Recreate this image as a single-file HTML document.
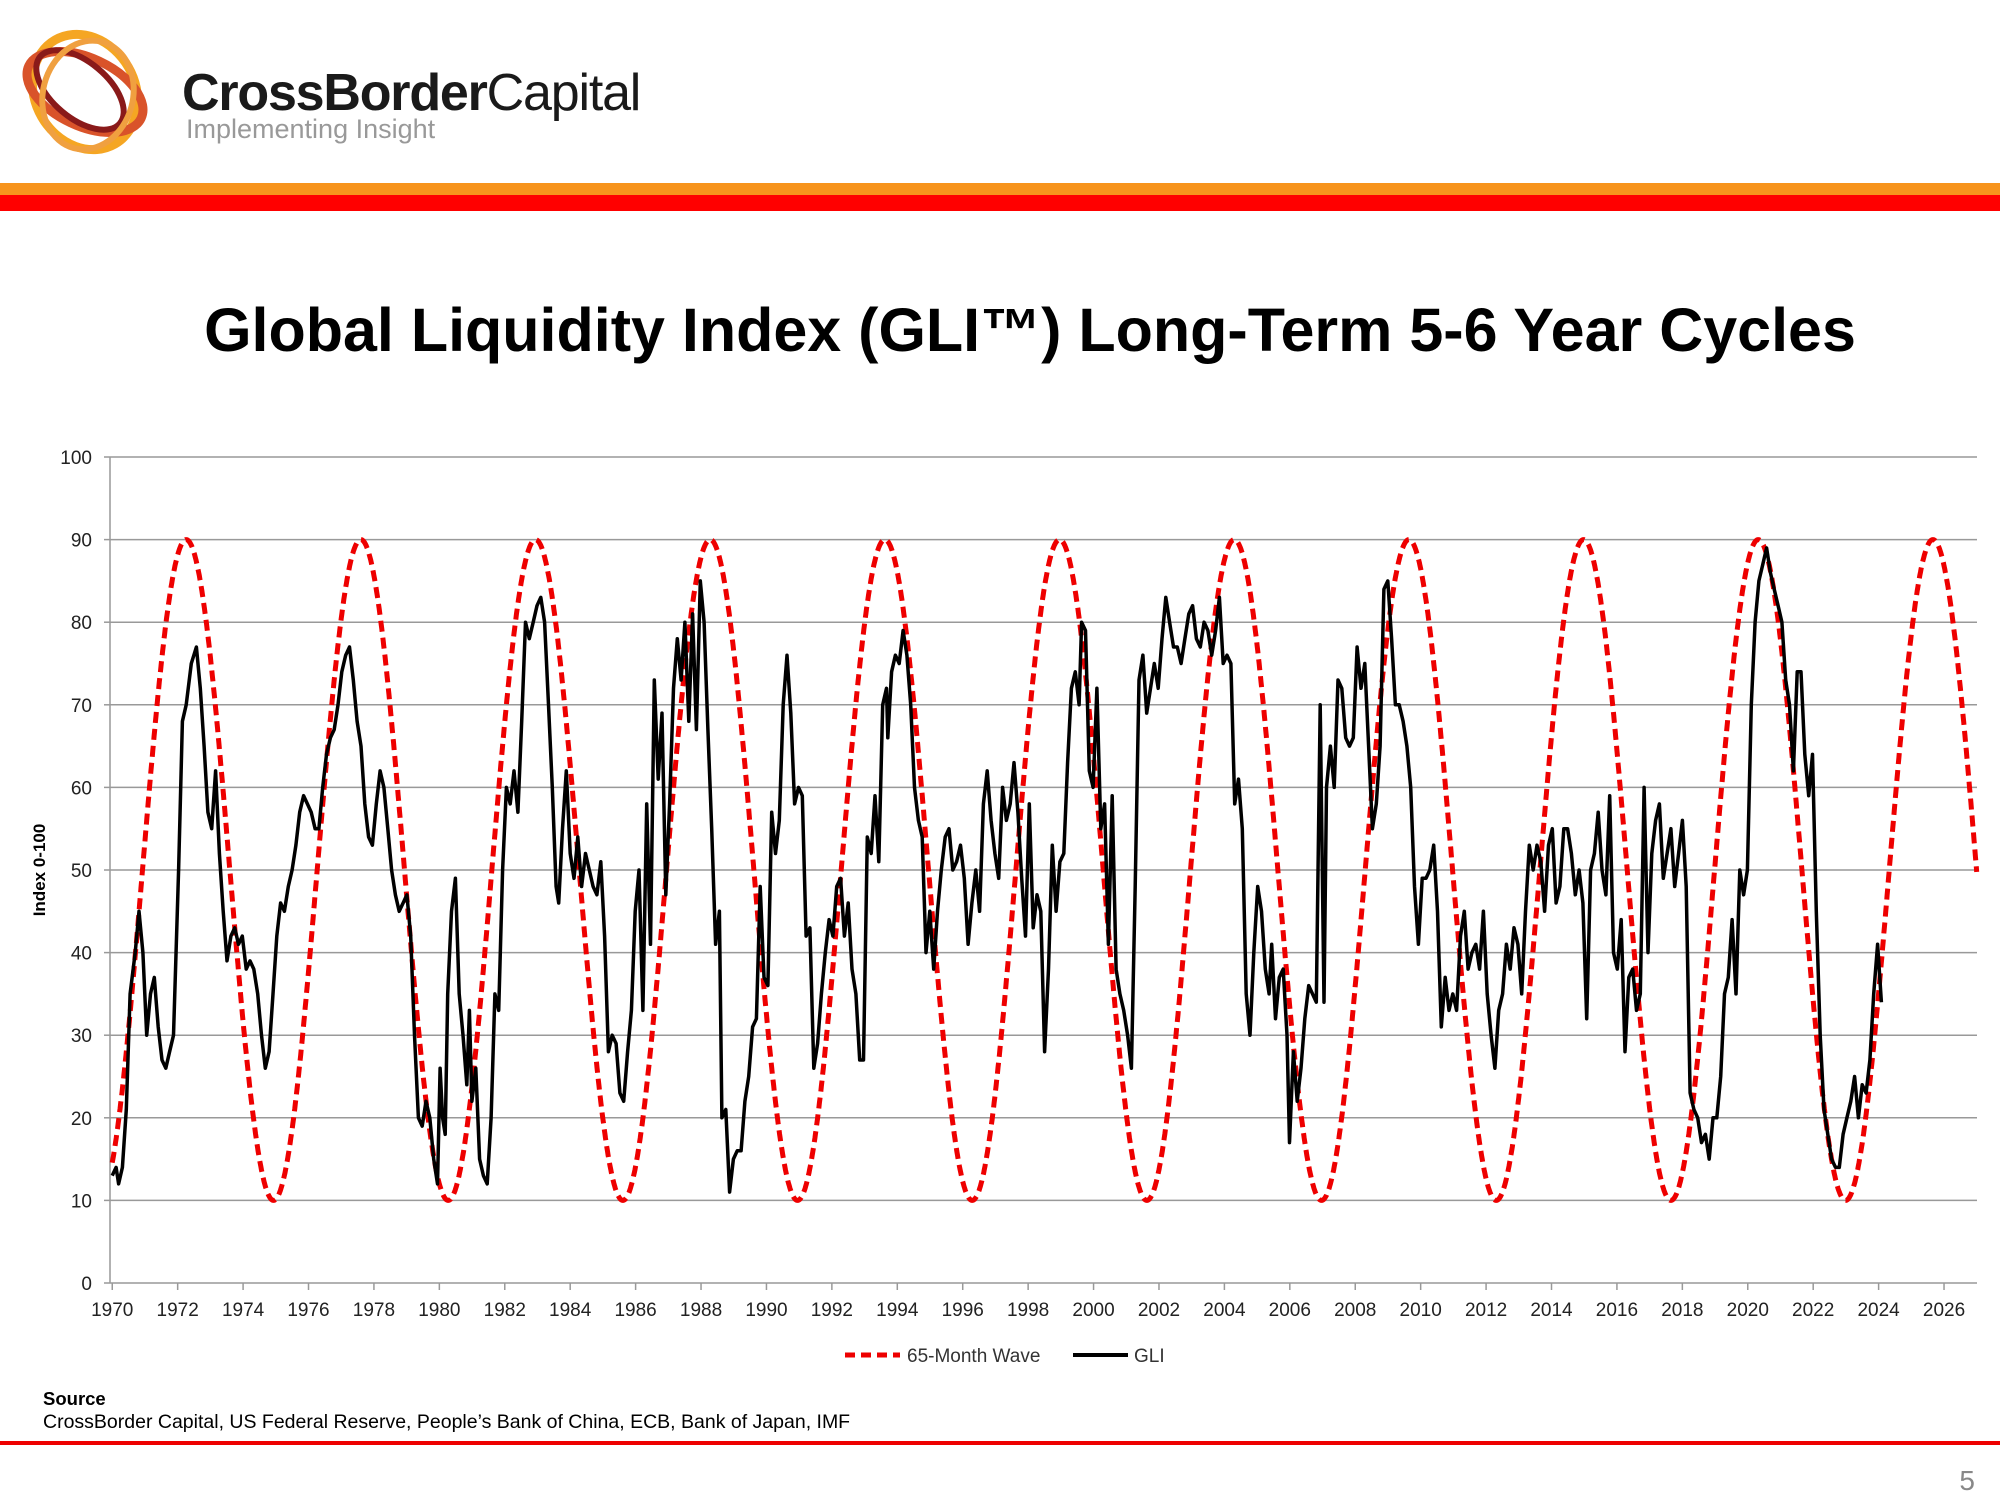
<!DOCTYPE html>
<html><head><meta charset="utf-8"><style>
html,body{margin:0;padding:0;background:#fff;}
svg{display:block;font-family:"Liberation Sans",Arial,sans-serif;}
</style></head><body>
<svg id="s" width="2000" height="1500" viewBox="0 0 2000 1500" xmlns="http://www.w3.org/2000/svg">
<rect width="2000" height="1500" fill="#fff"/>
<g fill="none" stroke-width="9">
<ellipse cx="85" cy="92" rx="50" ry="60" stroke="#f5a623" transform="rotate(-30 85 92)"/>
<ellipse cx="85" cy="92" rx="62" ry="34" stroke="#d9532a" transform="rotate(25 85 92)"/>
<ellipse cx="80" cy="90" rx="52" ry="28" stroke="#8a1a1a" transform="rotate(40 80 90)" stroke-width="6"/>
<ellipse cx="88" cy="95" rx="45" ry="55" stroke="#f0a040" transform="rotate(15 88 95)" stroke-width="6"/>
</g>
<text x="182" y="110" font-size="52" font-weight="bold" fill="#1a1a1a" letter-spacing="-1.2">CrossBorder<tspan font-weight="normal">Capital</tspan></text>
<text x="186" y="138" font-size="27" fill="#999">Implementing Insight</text>
<rect x="0" y="183" width="2000" height="12" fill="#f7941d"/>
<rect x="0" y="195" width="2000" height="16" fill="#f00"/>
<text x="1030" y="351" font-size="61" font-weight="bold" text-anchor="middle" fill="#000">Global Liquidity Index (GLI™) Long-Term 5-6 Year Cycles</text>
<g id="grid"></g>
<g id="series"></g>
<text transform="translate(45,870) rotate(-90)" font-size="17" font-weight="bold" text-anchor="middle">Index 0-100</text>
<line x1="845" y1="1355" x2="900" y2="1355" stroke="#e00" stroke-width="5" stroke-dasharray="10,6"/>
<text x="907" y="1362" font-size="19" fill="#333">65-Month Wave</text>
<line x1="1073" y1="1355" x2="1128" y2="1355" stroke="#000" stroke-width="4"/>
<text x="1134" y="1362" font-size="19" fill="#333">GLI</text>
<text x="43" y="1405" font-size="18.5" font-weight="bold">Source</text>
<text x="43" y="1428" font-size="19.5">CrossBorder Capital, US Federal Reserve, People’s Bank of China, ECB, Bank of Japan, IMF</text>
<rect x="0" y="1441" width="2000" height="4" fill="#e00"/>
<text x="1975" y="1490" font-size="28" fill="#888" text-anchor="end">5</text>
</svg>
<script>
var K=2000/1568;
function yv(v){return 1283-v*8.26;}
function xy(y){return (88+(y-1970)*25.645)*K;}
var g=document.getElementById('grid'),h='';
var L=110,R=1977;
for(var v=0;v<=100;v+=10){var y=yv(v);h+='<line x1="'+L+'" y1="'+y+'" x2="'+R+'" y2="'+y+'" stroke="#999" stroke-width="1.5"/>';
h+='<line x1="'+(L-6)+'" y1="'+y+'" x2="'+L+'" y2="'+y+'" stroke="#999" stroke-width="1.5"/>';
h+='<text x="92" y="'+(y+7)+'" font-size="19" text-anchor="end" fill="#222">'+v+'</text>';}
h+='<line x1="'+L+'" y1="'+yv(100)+'" x2="'+L+'" y2="'+yv(0)+'" stroke="#999" stroke-width="1.5"/>';
for(var yr=1970;yr<=2026;yr+=2){var x=xy(yr);h+='<line x1="'+x+'" y1="1283" x2="'+x+'" y2="1290" stroke="#999" stroke-width="1.5"/><text x="'+x+'" y="1316" font-size="19" text-anchor="middle" fill="#222">'+yr+'</text>';}
g.innerHTML=h;
var d='';for(var t=1970;t<=2027.0;t+=0.02){var val=50+40*Math.cos(2*Math.PI*(t-1972.26)/5.34);d+=(d?'L':'M')+xy(t).toFixed(1)+' '+yv(val).toFixed(1);}
var p="88 13,91 14,93 12,96 14,99 21,102 35,106 40,109 45,112 40,115 30,118 35,121 37,124 31,127 27,130 26,133 28,136 30,140 50,143 68,146 70,150 75,154 77,157 72,160 65,163 57,166 55,169 62,172 52,175 45,178 39,181 42,184 43,187 41,190 42,193 38,196 39,199 38,202 35,205 30,208 26,211 28,214 35,217 42,220 46,223 45,226 48,229 50,232 53,235 57,238 59,241 58,244 57,247 55,250 55,253 60,256 64,259 66,262 67,265 70,268 74,271 76,274 77,277 73,280 68,283 65,286 58,289 54,292 53,295 58,298 62,301 60,304 55,307 50,310 47,313 45,316 46,319 47,322 42,325 30,328 20,331 19,334 22,337 20,340 15,343 12,345 26,347 20,349 18,351 35,354 45,357 49,360 35,363 30,366 24,368 33,370 22,373 26,376 15,379 13,382 12,385 20,388 35,391 33,394 50,397 60,400 58,403 62,406 57,409 68,412 80,415 78,418 80,421 82,424 83,427 80,430 70,433 60,436 48,438 46,441 55,444 62,447 52,450 49,453 54,456 48,459 52,462 50,465 48,468 47,471 51,474 42,477 28,480 30,483 29,486 23,489 22,492 28,495 33,498 45,501 50,504 33,507 58,510 41,513 73,516 61,519 69,522 47,525 58,528 72,531 78,534 73,537 80,540 68,543 81,546 67,549 85,552 80,555 67,558 55,561 41,564 45,566 20,569 21,572 11,575 15,578 16,581 16,584 22,587 25,590 31,593 32,596 48,599 37,602 36,605 57,608 52,611 56,614 70,617 76,620 69,623 58,626 60,629 59,632 42,635 43,638 26,641 29,644 35,647 40,650 44,653 42,656 48,659 49,662 42,665 46,668 38,671 35,674 27,677 27,680 54,683 52,686 59,689 51,692 70,695 72,696 66,699 74,702 76,705 75,708 79,711 76,714 70,717 60,720 56,723 54,726 40,729 45,732 38,735 45,738 50,741 54,744 55,747 50,750 51,753 53,756 49,759 41,762 46,765 50,768 45,771 58,774 62,777 56,780 52,783 49,786 60,789 56,792 58,795 63,798 57,801 49,804 42,807 58,810 43,813 47,816 45,819 28,822 38,825 53,828 45,831 51,834 52,837 63,840 72,843 74,846 70,848 80,851 79,854 62,857 60,860 72,863 55,866 58,869 41,872 59,875 38,878 35,881 33,884 30,887 26,890 48,893 73,896 76,899 69,902 72,905 75,908 72,911 78,914 83,917 80,920 77,923 77,926 75,929 78,932 81,935 82,938 78,941 77,944 80,947 79,950 76,953 79,956 83,959 75,962 76,965 75,968 58,971 61,974 55,977 35,980 30,983 40,986 48,989 45,992 38,995 35,997 41,1000 32,1003 37,1006 38,1009 30,1011 17,1014 28,1017 22,1020 26,1023 32,1026 36,1029 35,1032 34,1035 70,1038 34,1040 60,1043 65,1046 60,1049 73,1052 72,1055 66,1058 65,1061 66,1064 77,1067 72,1070 75,1073 65,1076 55,1079 58,1082 65,1085 84,1088 85,1091 78,1094 70,1097 70,1100 68,1103 65,1106 60,1109 48,1112 41,1115 49,1118 49,1121 50,1124 53,1127 45,1130 31,1133 37,1136 33,1139 35,1142 33,1145 42,1148 45,1151 38,1154 40,1157 41,1160 38,1163 45,1166 35,1169 30,1172 26,1175 33,1178 35,1181 41,1184 38,1187 43,1190 41,1193 35,1196 45,1199 53,1202 50,1205 53,1208 51,1211 45,1214 53,1217 55,1220 46,1223 48,1226 55,1229 55,1232 52,1235 47,1238 50,1241 46,1244 32,1247 50,1250 52,1253 57,1256 50,1259 47,1262 59,1265 40,1268 38,1271 44,1274 28,1277 37,1280 38,1283 33,1286 35,1289 60,1292 40,1295 52,1298 56,1301 58,1304 49,1307 52,1310 55,1313 48,1316 52,1319 56,1322 48,1325 23,1328 21,1331 20,1334 17,1337 18,1340 15,1343 20,1346 20,1349 25,1352 35,1355 37,1358 44,1361 35,1364 50,1367 47,1370 50,1373 70,1376 80,1379 85,1382 87,1385 89,1388 86,1391 84,1394 82,1397 80,1400 73,1403 70,1406 62,1409 74,1412 74,1415 64,1418 59,1421 64,1424 45,1427 30,1430 21,1433 18,1436 15,1439 14,1442 14,1445 18,1448 20,1451 22,1454 25,1457 20,1460 24,1463 23,1466 27,1469 35,1472 41,1475 34".split(',');
var d2='';p.forEach(function(s){var a=s.split(' ');d2+=(d2?'L':'M')+(a[0]*K).toFixed(1)+' '+yv(+a[1]).toFixed(1);});
document.getElementById('series').innerHTML='<path d="'+d+'" fill="none" stroke="#e00" stroke-width="5" stroke-dasharray="11,6"/><path d="'+d2+'" fill="none" stroke="#000" stroke-width="3.5" stroke-linejoin="round"/>';
</script>
</body></html>
